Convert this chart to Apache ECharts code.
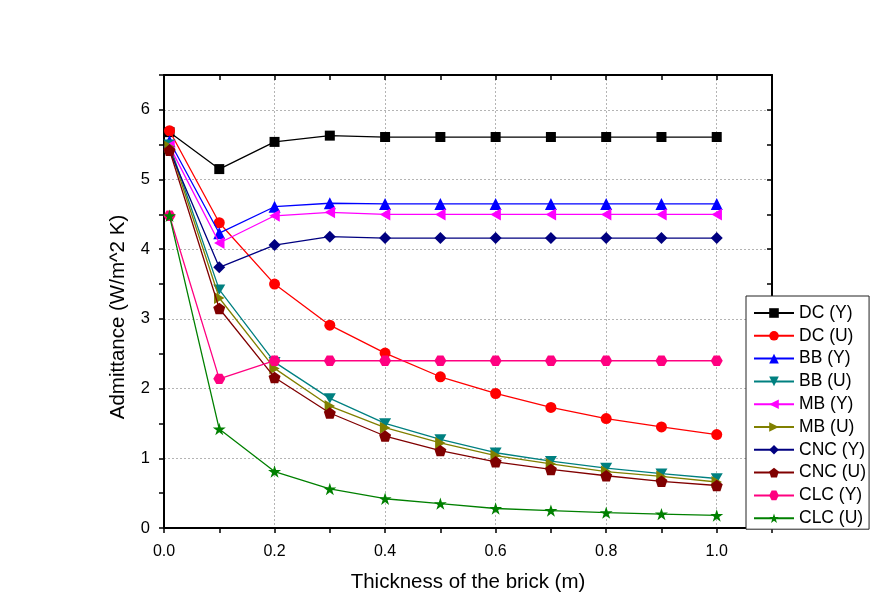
<!DOCTYPE html>
<html>
<head>
<meta charset="utf-8">
<script src="https://cdn.jsdelivr.net/npm/echarts@6/dist/echarts.min.js"></script>
<style>
  html, body { margin: 0; padding: 0; background: #fff; }
  #chart { width: 881px; height: 597px; }
</style>
</head>
<body>
<div id="chart"></div>
<script>
// Brick thickness (m)
const thickness = [0.01, 0.1, 0.2, 0.3, 0.4, 0.5, 0.6, 0.7, 0.8, 0.9, 1.0];

// Admittance (W/m^2 K) for each brick type, Y and U values
const dcY  = [5.68, 5.15, 5.54, 5.63, 5.61, 5.61, 5.61, 5.61, 5.61, 5.61, 5.61];
const dcU  = [5.70, 4.38, 3.50, 2.91, 2.51, 2.17, 1.93, 1.73, 1.57, 1.45, 1.34];
const bbY  = [5.55, 4.23, 4.61, 4.66, 4.65, 4.65, 4.65, 4.65, 4.65, 4.65, 4.65];
const bbU  = [5.50, 3.42, 2.38, 1.86, 1.50, 1.27, 1.08, 0.96, 0.86, 0.78, 0.71];
const mbY  = [5.48, 4.09, 4.48, 4.53, 4.50, 4.50, 4.50, 4.50, 4.50, 4.50, 4.50];
const mbU  = [5.47, 3.30, 2.29, 1.75, 1.44, 1.22, 1.04, 0.92, 0.81, 0.74, 0.66];
const cncY = [5.42, 3.74, 4.06, 4.18, 4.16, 4.16, 4.16, 4.16, 4.16, 4.16, 4.16];
const cncU = [5.42, 3.15, 2.16, 1.65, 1.32, 1.11, 0.95, 0.84, 0.75, 0.67, 0.61];
const clcY = [4.48, 2.14, 2.40, 2.40, 2.40, 2.40, 2.40, 2.40, 2.40, 2.40, 2.40];
const clcU = [4.48, 1.42, 0.81, 0.56, 0.42, 0.35, 0.28, 0.25, 0.22, 0.20, 0.18];

const seriesNames = ['DC (Y)', 'DC (U)', 'BB (Y)', 'BB (U)', 'MB (Y)', 'MB (U)', 'CNC (Y)', 'CNC (U)', 'CLC (Y)', 'CLC (U)'];
const seriesValues = [dcY, dcU, bbY, bbU, mbY, mbU, cncY, cncU, clcY, clcU];

const xTicks = { min: 0, max: 1.1, step: 0.1 };
const yTicks = { min: 0, max: 6.5, step: 0.5 };

const colors = ['#000000', '#ff0000', '#0000ff', '#008080', '#ff00ff', '#808000', '#000080', '#800000', '#ff0080', '#008000'];
const symbols = [
  'rect',
  'circle',
  'triangle',
  'path://M0,0L100,0L50,87Z',
  'path://M0,50L87,0L87,100Z',
  'path://M0,0L87,50L0,100Z',
  'diamond',
  'path://M50,0L97.6,34.5L79.4,90.5L20.6,90.5L2.4,34.5Z',
  'path://M25,0L75,0L100,43.3L75,86.6L25,86.6L0,43.3Z',
  'path://M50,0L61.2,34.5L97.6,34.5L68.2,55.9L79.4,90.5L50,69.1L20.6,90.5L31.8,55.9L2.4,34.5L38.8,34.5Z'
];
const sizes = [10, 11, 12, 12, 12, 12, 12, 12, 12, 13];

const FONT = '"Liberation Sans", Arial, sans-serif';
const grid = { left: 164, right: 109, top: 75, bottom: 69, outerBoundsMode: 'none' };
const gridGray = '#b4b4b4';

const series = seriesNames.map((name, i) => ({
  name: name,
  type: 'line',
  data: thickness.map((x, j) => [x, seriesValues[i][j]]),
  symbol: symbols[i],
  symbolSize: sizes[i],
  symbolKeepAspect: true,
  showAllSymbol: true,
  color: colors[i],
  lineStyle: { color: colors[i], width: 1.3 },
  itemStyle: { color: colors[i] },
  emphasis: { disabled: true },
  animation: false,
  z: 3 + i
}));

const chart = echarts.init(document.getElementById('chart'), null, { renderer: 'canvas' });
chart.setOption({
  backgroundColor: '#ffffff',
  animation: false,
  grid: grid,
  legend: {
    orient: 'vertical',
    left: 746,
    top: 296,
    width: 125,
    backgroundColor: '#ffffff',
    borderColor: '#222',
    borderWidth: 1,
    padding: [8, 3, 2, 7],
    itemWidth: 40,
    itemHeight: 12,
    itemGap: 4.8,
    textStyle: { fontFamily: FONT, fontSize: 17.5, color: '#000', lineHeight: 17.3 },
    data: seriesNames
  },
  xAxis: [{
    type: 'value',
    position: 'bottom',
    min: xTicks.min, max: xTicks.max, interval: xTicks.step,
    name: 'Thickness of the brick (m)',
    nameLocation: 'middle',
    nameGap: 44,
    nameTextStyle: { fontFamily: FONT, fontSize: 20.5, color: '#000' },
    axisLine: { show: true, onZero: false, lineStyle: { color: '#000', width: 2 } },
    axisTick: { show: true, inside: false, length: 5, lineStyle: { color: '#000', width: 1.5 } },
    axisLabel: {
      fontFamily: FONT, fontSize: 16, color: '#000', margin: 16,
      formatter: v => {
        const k = Math.round(v * 10);
        return (k % 2 === 0 && k <= 10) ? (k / 10).toFixed(1) : '';
      }
    },
    splitLine: { show: true, lineStyle: { color: [gridGray, 'transparent'], type: [2, 2], width: 1 } }
  }, {
    type: 'value',
    position: 'top',
    min: xTicks.min, max: xTicks.max, interval: xTicks.step,
    axisLine: { show: true, onZero: false, lineStyle: { color: '#000', width: 2 } },
    axisTick: { show: true, inside: true, length: 5, lineStyle: { color: '#000', width: 1.5 } },
    axisLabel: { show: false },
    splitLine: { show: false }
  }],
  yAxis: [{
    type: 'value',
    position: 'left',
    min: yTicks.min, max: yTicks.max, interval: yTicks.step,
    name: 'Admittance (W/m^2 K)',
    nameLocation: 'middle',
    nameGap: 35,
    nameTextStyle: { fontFamily: FONT, fontSize: 20.5, color: '#000', padding: [0, 31, 0, 0] },
    axisLine: { show: true, onZero: false, lineStyle: { color: '#000', width: 2 } },
    axisTick: { show: true, inside: false, length: 5, lineStyle: { color: '#000', width: 1.5 } },
    axisLabel: {
      fontFamily: FONT, fontSize: 16.5, color: '#000', margin: 14,
      formatter: v => (Math.abs(v - Math.round(v)) < 1e-6 && v <= 6) ? String(Math.round(v)) : ''
    },
    splitLine: { show: true, lineStyle: { color: [gridGray, 'transparent'], type: [2, 2], width: 1 } }
  }, {
    type: 'value',
    position: 'right',
    min: yTicks.min, max: yTicks.max, interval: yTicks.step,
    axisLine: { show: true, onZero: false, lineStyle: { color: '#000', width: 2 } },
    axisTick: { show: true, inside: true, length: 5, lineStyle: { color: '#000', width: 1.5 } },
    axisLabel: { show: false },
    splitLine: { show: false }
  }],
  series: series
});
</script>
</body>
</html>
